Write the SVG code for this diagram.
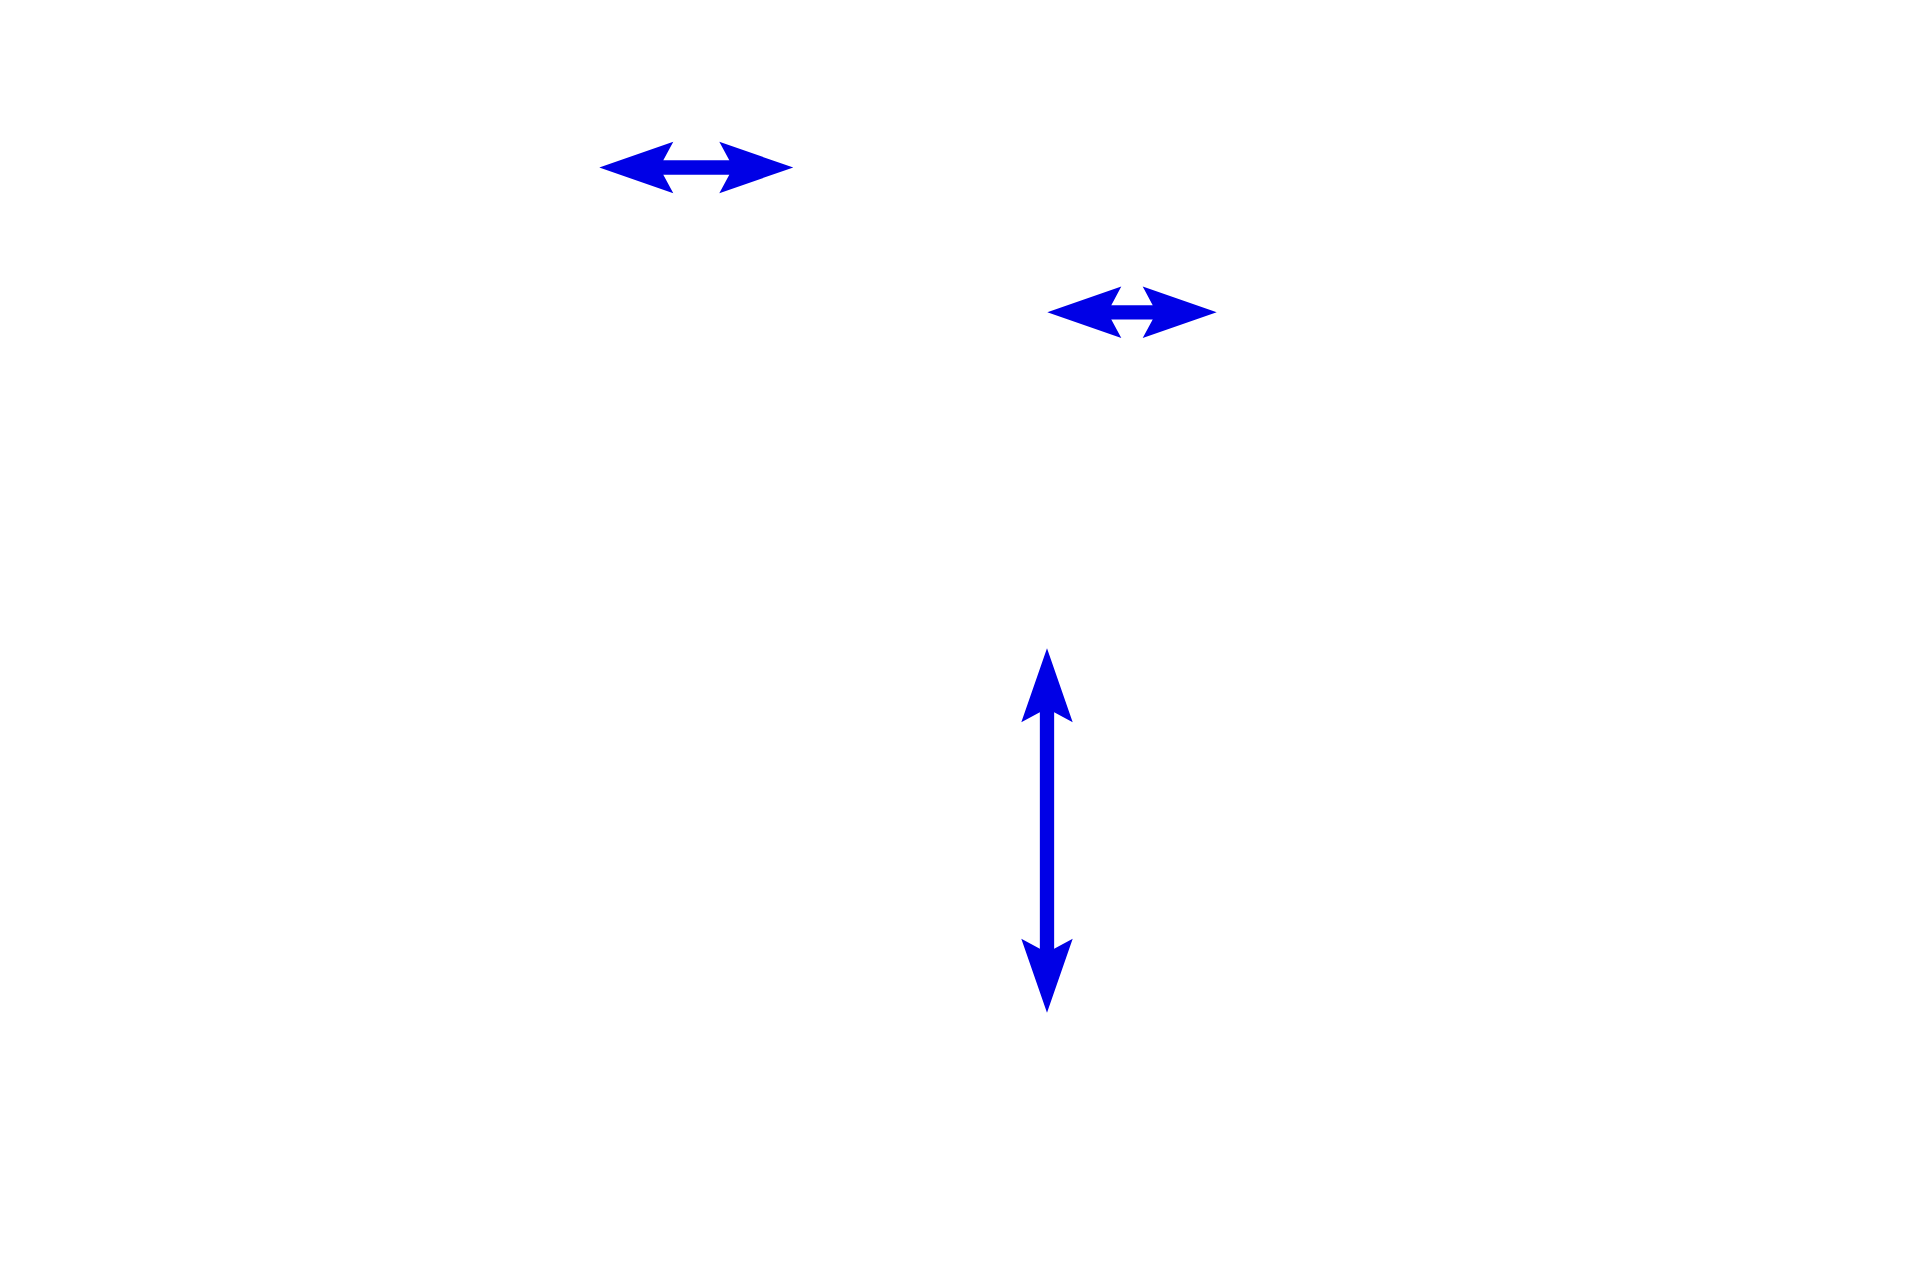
<svg xmlns="http://www.w3.org/2000/svg" width="1920" height="1280" viewBox="0 0 1920 1280">
  <style>
    .conn { stroke: #0000e6; stroke-width: 14.3; fill: none; marker-start: url(#head); marker-end: url(#head); }
  </style>
  <defs>
    <marker id="head" viewBox="-80 -30 84 60" refX="-60" refY="0" markerWidth="84" markerHeight="60" markerUnits="userSpaceOnUse" orient="auto-start-reverse">
      <path d="M0,0 L-74,-25.7 L-64,-7.15 L-64,7.15 L-74,25.7 Z" fill="#0000e6"/>
    </marker>
  </defs>
  <rect width="1920" height="1280" fill="#ffffff"/>
  <g id="connectors">
    <line id="arrow-1" class="conn" x1="659.3" y1="167.5" x2="733.3" y2="167.5"/>
    <line id="arrow-2" class="conn" x1="1107.3" y1="312.3" x2="1156.7" y2="312.3"/>
    <line id="arrow-3" class="conn" x1="1047" y1="708.3" x2="1047" y2="952.7"/>
  </g>
</svg>
